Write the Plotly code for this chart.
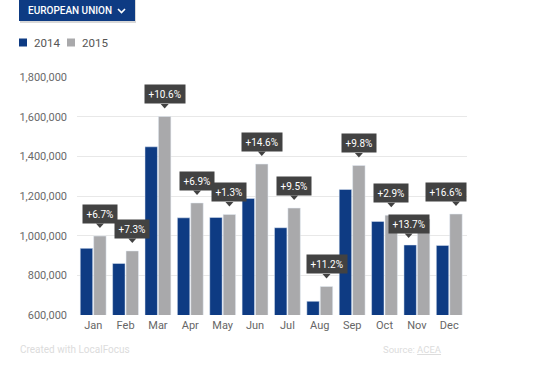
import plotly.graph_objects as go

months = ["Jan", "Feb", "Mar", "Apr", "May", "Jun", "Jul", "Aug", "Sep", "Oct", "Nov", "Dec"]
sales_2014 = [936000, 860000, 1448000, 1090000, 1092000, 1188000, 1040000, 669000, 1233000, 1072000, 953000, 951000]
sales_2015 = [998000, 923000, 1601000, 1165000, 1107000, 1361000, 1139000, 744000, 1354000, 1103000, 1084000, 1109000]
growth_labels = ["+6.7%", "+7.3%", "+10.6%", "+6.9%", "+1.3%", "+14.6%", "+9.5%", "+11.2%", "+9.8%", "+2.9%", "+13.7%", "+16.6%"]
y_ticks = [600000, 800000, 1000000, 1200000, 1400000, 1600000, 1800000]

# label nudges (pixels) used to avoid collisions, as in the original
box_dx = [0, 0, 0, 0, 0, 0, 0, 0, 0, 0, -15, -10]
box_dy = [0, 0, 0, 0, 0, 0, 0, 0, 0, 0, -27, 0]
tip_dx = [0, 0, 0, 0, 0, 0, 0, 0, 0, 0, -15, 0]

BLUE = "#0e3b83"
GREY = "#a9a9ab"
BOX = "#424242"
FONT = "Roboto"

W, H = 550, 365
L, R, T, B = 77, 83, 77, 50
PW, PH = W - L - R, H - T - B


def px(x):
    return (x - L) / PW


def py(y):
    return (H - B - y) / PH


fig = go.Figure()
fig.add_trace(go.Bar(x=months, y=sales_2014, name="2014", marker_color=BLUE, showlegend=False))
fig.add_trace(go.Bar(x=months, y=sales_2015, name="2015", marker_color=GREY, showlegend=False))

annotations = []
shapes = []
half = PW / len(months) * (1 - 0.17) / 4  # centre of the 2015 bar relative to category centre
for i, m in enumerate(months):
    annotations.append(dict(
        x=m, y=sales_2015[i], xref="x", yref="y", text=growth_labels[i],
        showarrow=False, yanchor="bottom", xanchor="center",
        xshift=half + box_dx[i], yshift=12 + box_dy[i],
        bgcolor=BOX, borderpad=3.5,
        font=dict(family=FONT, size=10, color="white"),
    ))
    cx = half + tip_dx[i]
    by = 12 + box_dy[i]
    shapes.append(dict(
        type="path", xref="x", yref="y",
        xsizemode="pixel", ysizemode="pixel",
        xanchor=m, yanchor=sales_2015[i],
        path=f"M{cx-4},{by+0.5} L{cx+4},{by+0.5} L{cx},{by-4} Z",
        fillcolor=BOX, line=dict(width=0),
    ))

# header button
shapes.append(dict(type="rect", xref="paper", yref="paper",
                   x0=px(20), x1=px(136), y0=py(23), y1=py(-2),
                   fillcolor="#d8d8d8", line=dict(width=0), layer="above"))
shapes.append(dict(type="rect", xref="paper", yref="paper",
                   x0=px(19), x1=px(135), y0=py(21), y1=py(-2),
                   fillcolor=BLUE, line=dict(width=0), layer="above"))
annotations.append(dict(x=px(26), y=py(10.5), xref="paper", yref="paper", xanchor="left", yanchor="middle",
                        text="EUROPEAN UNION", showarrow=False,
                        font=dict(family=FONT, size=10, color="white", weight=500)))
shapes.append(dict(type="path", xref="paper", yref="paper",
                   path=f"M{px(118)},{py(9)} L{px(121.5)},{py(12.5)} L{px(125)},{py(9)}",
                   line=dict(color="white", width=1.6), layer="above"))

# legend
for j, (name, col, x0) in enumerate([("2014", BLUE, 19), ("2015", GREY, 67)]):
    shapes.append(dict(type="rect", xref="paper", yref="paper",
                       x0=px(x0), x1=px(x0 + 8), y0=py(46.5), y1=py(38.5),
                       fillcolor=col, line=dict(width=0)))
    annotations.append(dict(x=px(x0 + 13), y=py(42.5), xref="paper", yref="paper",
                            xanchor="left", yanchor="middle", text=name, showarrow=False,
                            font=dict(family=FONT, size=11.5, color="#555555")))

# footer
annotations.append(dict(x=px(18), y=py(349), xref="paper", yref="paper", xanchor="left", yanchor="middle",
                        text="Created with LocalFocus", showarrow=False,
                        font=dict(family=FONT, size=10, color="#dcdcdc")))
annotations.append(dict(x=px(444), y=py(349), xref="paper", yref="paper", xanchor="right", yanchor="middle",
                        text="Source: <u>ACEA</u>", showarrow=False,
                        font=dict(family=FONT, size=9.5, color="#dcdcdc")))

fig.update_layout(
    width=W, height=H,
    margin=dict(l=L, r=R, t=T, b=B, pad=0),
    paper_bgcolor="white", plot_bgcolor="white",
    barmode="group", bargap=0.17, bargroupgap=0.074,
    font=dict(family=FONT, size=11, color="#666666"),
    xaxis=dict(type="category", showgrid=False, showline=False, ticks="",
               tickfont=dict(family=FONT, size=11, color="#666666"), ticklabelstandoff=2),
    yaxis=dict(range=[600000, 1800000], tickvals=y_ticks, tickformat=",d",
               showgrid=True, gridcolor="#e8e8e8", gridwidth=1, zeroline=False, showline=False,
               ticks="", ticklabelstandoff=9,
               tickfont=dict(family=FONT, size=11, color="#6a6a6a")),
    annotations=annotations, shapes=shapes,
    showlegend=False,
)

fig.write_html("out.html", config={"displayModeBar": False},
               post_script="document.body.style.margin='0';document.body.style.overflow='hidden';")
